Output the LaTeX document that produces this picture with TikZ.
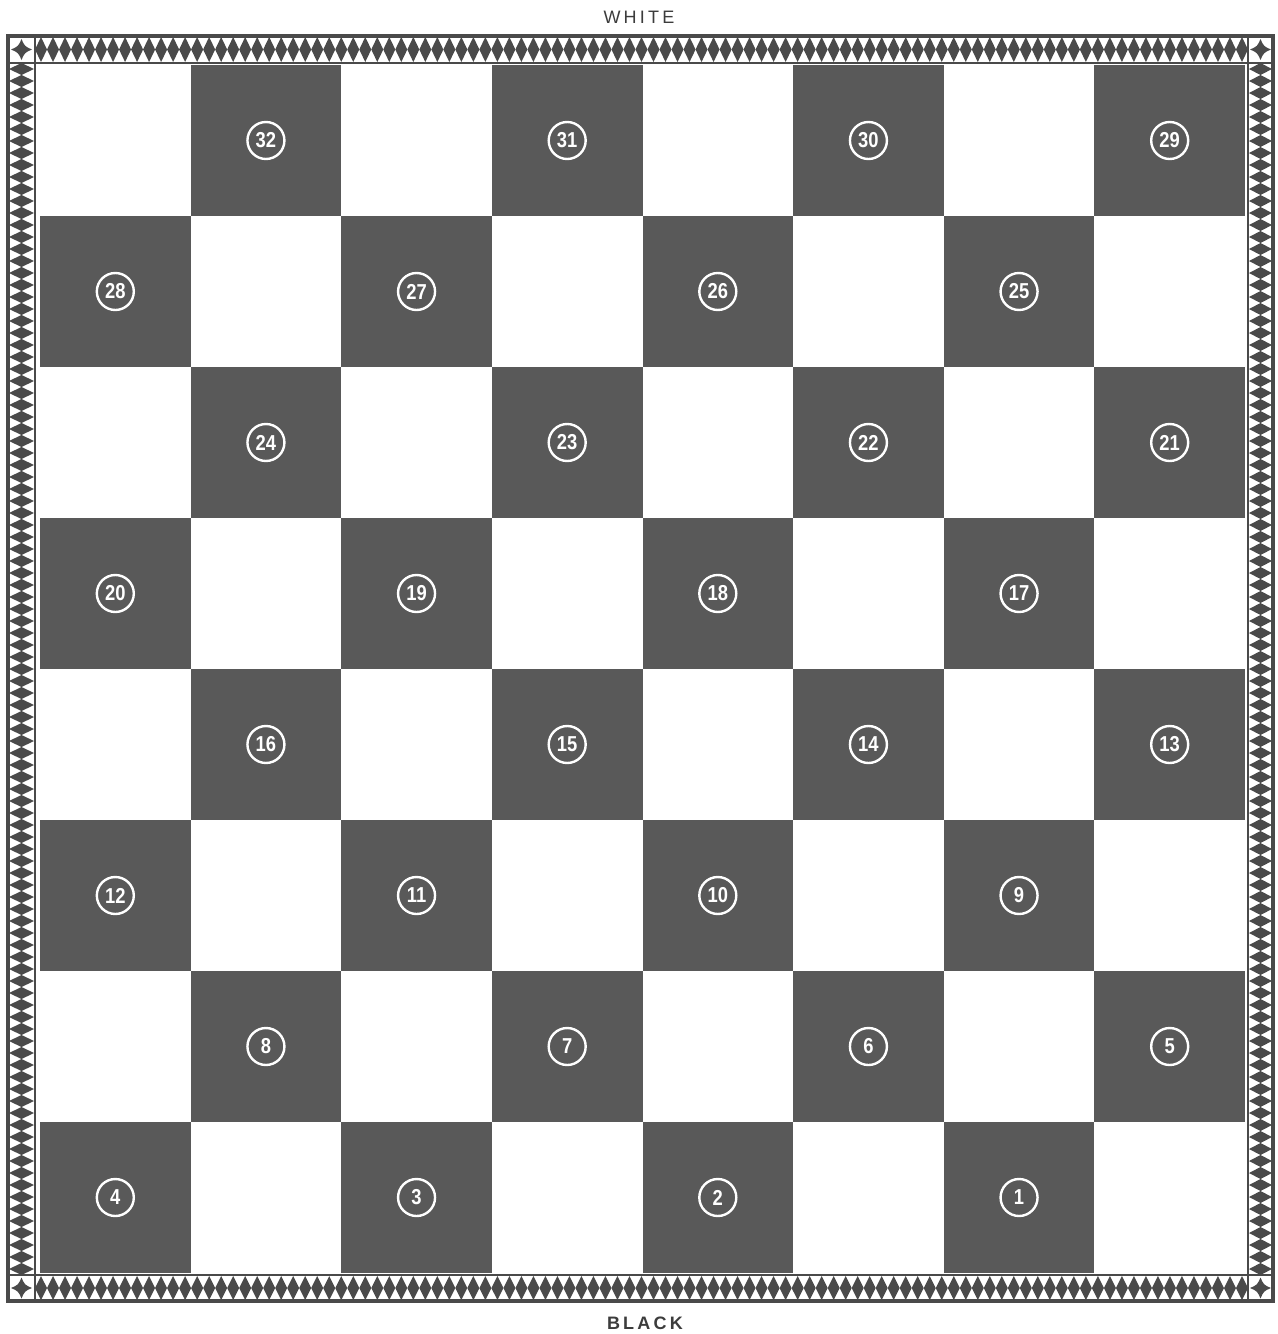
\documentclass[tikz,border=0pt]{standalone}
\usepackage{fontspec}
\setmainfont{Liberation Sans}
\newfontfamily\numfont[FakeStretch=0.85]{Liberation Sans}
\newfontfamily\labfont[LetterSpace=18]{Liberation Sans}
\definecolor{sqdark}{HTML}{595959}
\definecolor{bord}{HTML}{4A4A4A}
\definecolor{labc}{HTML}{3C3C3C}
\tikzset{
  darksq/.style={fill=sqdark, draw=none, rectangle, inner sep=0pt, outer sep=0pt,
    minimum width=75.31pt, minimum height=75.5pt, anchor=north west},
  numc/.style={circle, draw=white, line width=1.2pt, minimum size=18.5pt, inner sep=0pt,
    text=white, font=\numfont\bfseries\fontsize{10.8}{10.8}\selectfont},
  lab/.style={text=labc, inner sep=0pt, font=\labfont\fontsize{9}{9}\selectfont},
  bline/.style={draw=bord, line width=1.3pt},
}
\begin{document}
\begin{tikzpicture}[x=0.5pt,y=-0.5pt]
\useasboundingbox[fill=white] (0,0) rectangle (1278,1334);
% squares
\foreach \j in {0,...,7}{
  \foreach \k in {0,...,3}{
    \pgfmathtruncatemacro{\n}{32-4*\j-\k}
    \pgfmathtruncatemacro{\c}{2*\k+1-mod(\j,2)}
    \pgfmathsetmacro{\xl}{40+150.625*\c}
    \pgfmathsetmacro{\yt}{65+151*\j}
    \node[darksq] (sq\n) at (\xl,\yt) {};
    \node[numc] (num\n) at (sq\n.center) {\n};
  }
}
% border lines
\draw[bline, line width=1.6pt] (8,36) rectangle (1273,1301);
\draw[bline] (35,36) -- (35,1301);
\draw[bline] (1248,36) -- (1248,1301);
\draw[bline] (8,63) -- (1273,63);
\draw[bline] (8,1275) -- (1273,1275);
% diamonds horizontal
\foreach \i in {0,...,100}{
  \pgfmathsetmacro{\xc}{35+12.0099*(\i+0.5)}
  \fill[bord] ({\xc-6.005},49.5) -- (\xc,37) -- ({\xc+6.005},49.5) -- (\xc,62) -- cycle;
  \fill[bord] ({\xc-6.005},1288) -- (\xc,1276) -- ({\xc+6.005},1288) -- (\xc,1300) -- cycle;
}
% diamonds vertical
\foreach \i in {0,...,100}{
  \pgfmathsetmacro{\yc}{63+12*(\i+0.5)}
  \fill[bord] (21.5,{\yc-6}) -- (34,\yc) -- (21.5,{\yc+6}) -- (9,\yc) -- cycle;
  \fill[bord] (1260.5,{\yc-6}) -- (1272,\yc) -- (1260.5,{\yc+6}) -- (1249,\yc) -- cycle;
}
% corner stars
\foreach \cx/\cy in {21.5/49.5, 1260.5/49.5, 21.5/1288, 1260.5/1288}{
  \begin{scope}[shift={(\cx,\cy)}]
    \fill[bord] (0,-10.5) .. controls (3.2,-3.2) .. (10.5,0)
                .. controls (3.2,3.2) .. (0,10.5)
                .. controls (-3.2,3.2) .. (-10.5,0)
                .. controls (-3.2,-3.2) .. (0,-10.5) -- cycle;
  \end{scope}
}
% labels
\node[lab] (white) at (639,17) {WHITE};
\node[lab, font=\labfont\bfseries\fontsize{9}{9}\selectfont] (black) at (645,1323) {BLACK};
\end{tikzpicture}
\end{document}
